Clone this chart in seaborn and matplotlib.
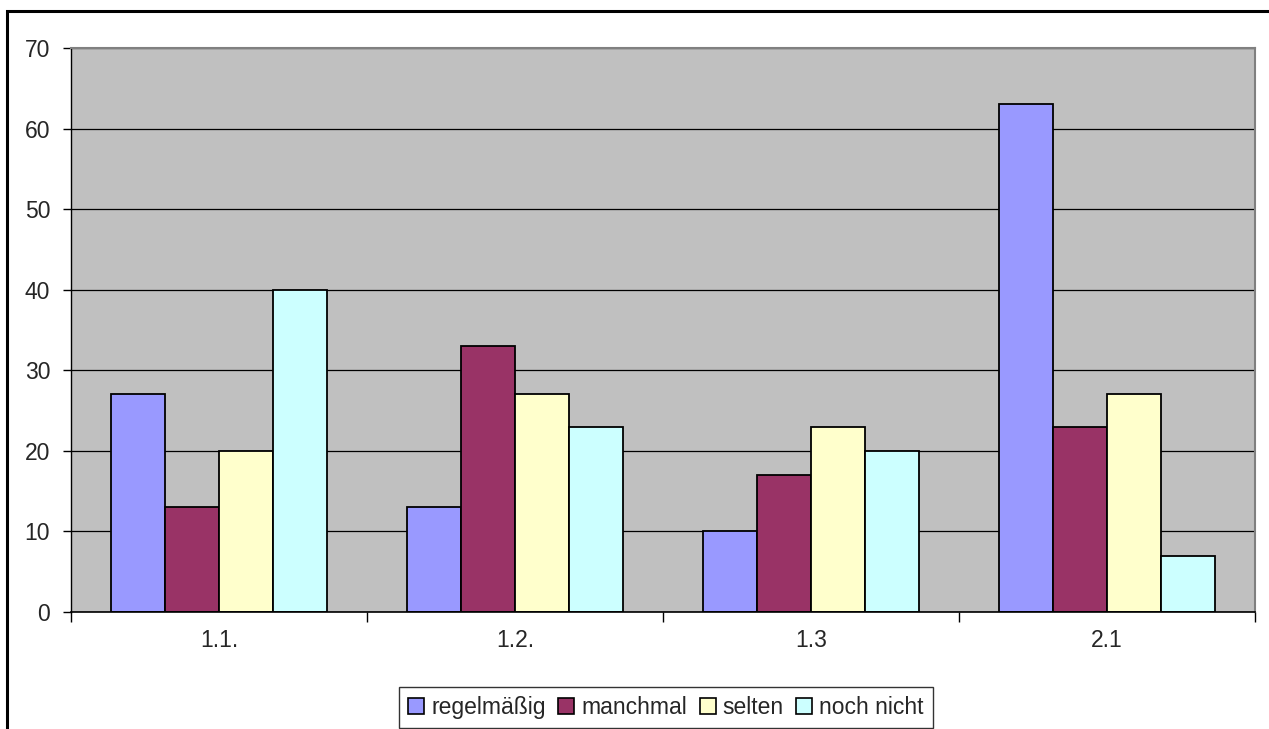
import pandas as pd
import matplotlib.pyplot as plt
import seaborn as sns
from matplotlib.patches import Rectangle
from matplotlib.ticker import MultipleLocator, FixedLocator

categories = ['1.1.', '1.2.', '1.3', '2.1']
series = ['regelmäßig', 'manchmal', 'selten', 'noch nicht']
regelmaessig = [27, 13, 10, 63]
manchmal = [13, 33, 17, 23]
selten = [20, 27, 23, 27]
noch_nicht = [40, 23, 20, 7]
colors = ['#9999FF', '#993366', '#FFFFCC', '#CCFFFF']

rows = []
for name, vals in zip(series, [regelmaessig, manchmal, selten, noch_nicht]):
    for cat, v in zip(categories, vals):
        rows.append({'frage': cat, 'antwort': name, 'wert': v})
df = pd.DataFrame(rows)

sns.set_style('white')
plt.rcParams['font.family'] = ['Liberation Sans', 'DejaVu Sans']

fig = plt.figure(figsize=(12.69, 7.29), dpi=100)
ax = fig.add_axes([71/1269, 1-612/729, (1255-71)/1269, (612-48)/729])
ax.set_facecolor('#C0C0C0')

sns.barplot(data=df, x='frage', y='wert', hue='antwort', order=categories, hue_order=series,
            palette=colors, edgecolor='black', linewidth=1.3, width=0.73, saturation=1,
            ax=ax, legend=False)

ax.set_ylim(0, 70)
ax.set_xlim(-0.5, 3.5)
ax.yaxis.set_major_locator(MultipleLocator(10))
ax.set_axisbelow(True)
ax.yaxis.grid(True, color='black', linewidth=0.9)
ax.xaxis.grid(False)
ax.set_xlabel('')
ax.set_ylabel('')

ax.xaxis.set_minor_locator(FixedLocator([-0.5, 0.5, 1.5, 2.5, 3.5]))
ax.tick_params(axis='x', which='major', length=0, pad=12, labelsize=16.5)
ax.tick_params(axis='x', which='minor', length=7, width=1, color='black', direction='out', bottom=True)
ax.tick_params(axis='y', length=6, width=1, color='black', direction='out', pad=9, labelsize=16.5, left=True)

for side in ['top', 'right']:
    ax.spines[side].set_color('#808080')
    ax.spines[side].set_linewidth(1.5)
ax.spines['left'].set_color('black')
ax.spines['bottom'].set_color('black')
ax.spines['left'].set_linewidth(1)
ax.spines['bottom'].set_linewidth(1.2)

handles = [Rectangle((0, 0), 1, 1, facecolor=c, edgecolor='black', linewidth=1.2) for c in colors]
leg = fig.legend(handles, series, loc='upper center', bbox_to_anchor=(666/1269, 1-687/729),
                 ncol=4, fontsize=16.5, frameon=True, fancybox=False, handlelength=0.7,
                 handleheight=0.7, handletextpad=0.3, columnspacing=0.55, borderpad=0.4,
                 borderaxespad=0)
leg.get_frame().set_edgecolor('black')
leg.get_frame().set_linewidth(1)

# outer chart border (only top and left visible in the crop)
fig.patches.append(Rectangle((7/1269, -0.1), 1.2, 1 - 11/729 + 0.1, transform=fig.transFigure,
                             fill=False, edgecolor='black', linewidth=2.2, figure=fig))

fig.savefig('out.png', dpi=100, facecolor='white')
